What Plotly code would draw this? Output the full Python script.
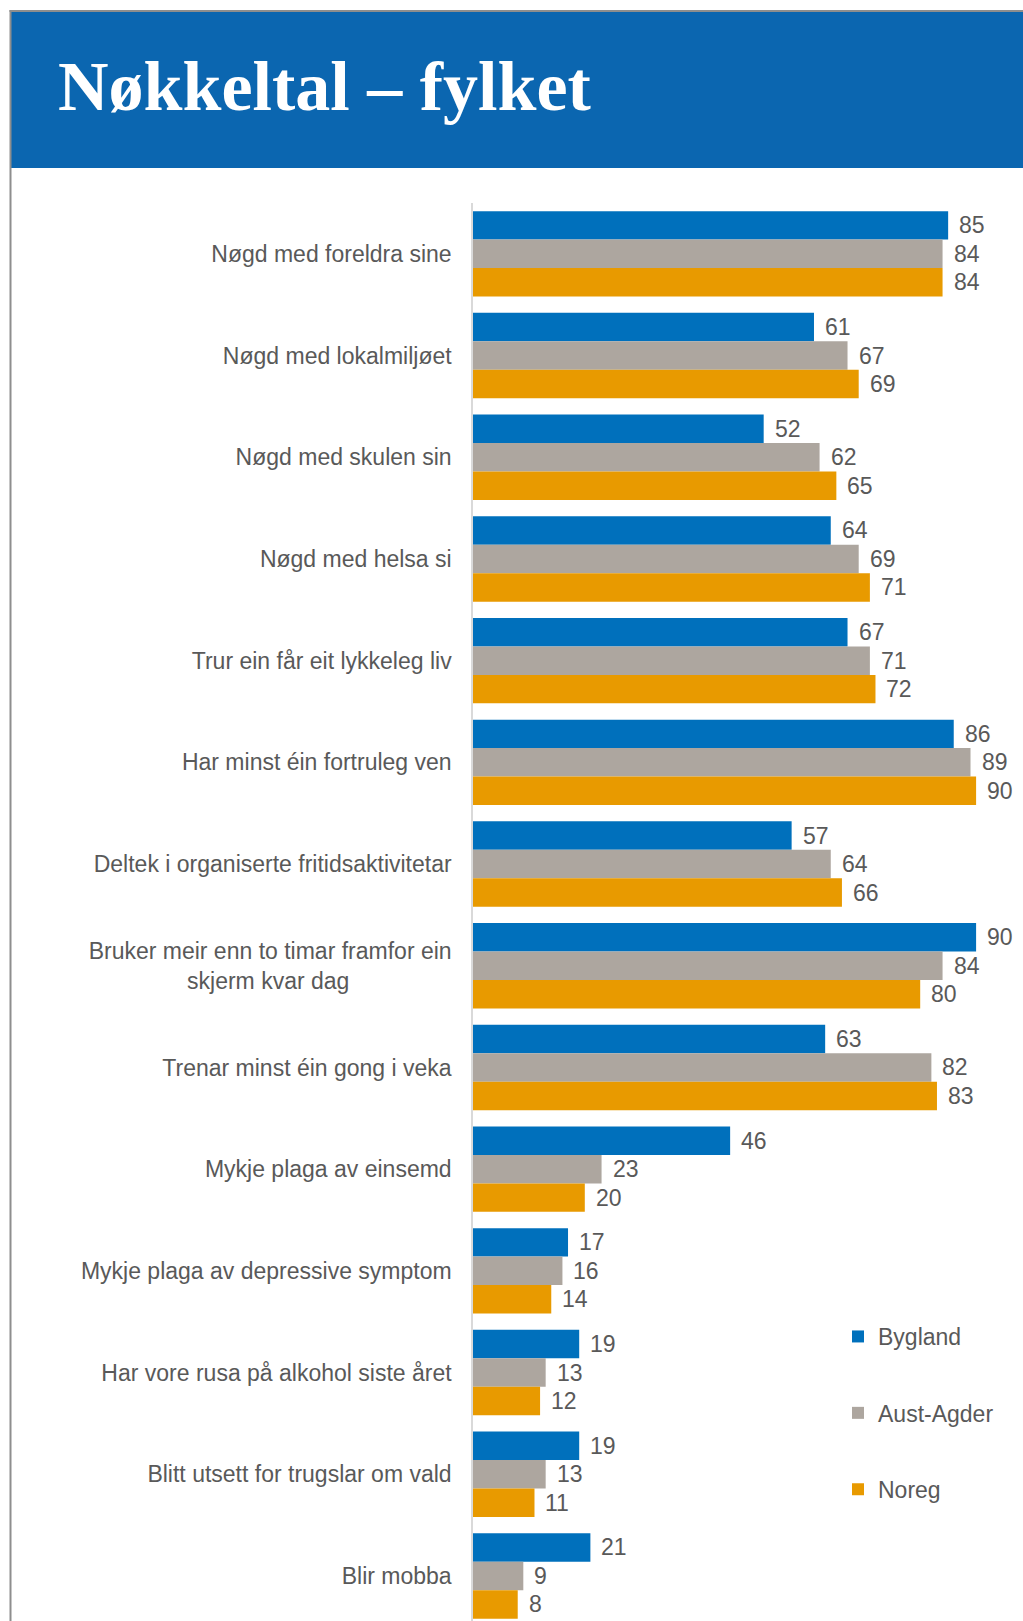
import plotly.graph_objects as go

# Indicators (top to bottom) and percentages per area
categories = [
    "Nøgd med foreldra sine",
    "Nøgd med lokalmiljøet",
    "Nøgd med skulen sin",
    "Nøgd med helsa si",
    "Trur ein får eit lykkeleg liv",
    "Har minst éin fortruleg ven",
    "Deltek i organiserte fritidsaktivitetar",
    "Bruker meir enn to timar framfor ein<br>skjerm kvar dag" + "\u00a0" * 16,
    "Trenar minst éin gong i veka",
    "Mykje plaga av einsemd",
    "Mykje plaga av depressive symptom",
    "Har vore rusa på alkohol siste året",
    "Blitt utsett for trugslar om vald",
    "Blir mobba",
]
bygland = [85, 61, 52, 64, 67, 86, 57, 90, 63, 46, 17, 19, 19, 21]
aust_agder = [84, 67, 62, 69, 71, 89, 64, 84, 82, 23, 16, 13, 13, 9]
noreg = [84, 69, 65, 71, 72, 90, 66, 80, 83, 20, 14, 12, 11, 8]

series = [
    ("Bygland", bygland, "#0070BC"),
    ("Aust-Agder", aust_agder, "#ADA69F"),
    ("Noreg", noreg, "#E89A00"),
]

W, H = 1023, 1621
L, T = 473, 203
PW, PH = W - L, H - T
SLOT = 101.7  # pixel height of one category slot
XMAX = PW / 5.59  # 5.59 px per percentage point

def px_x(p):
    return (p - L) / PW

def px_y(p):
    return (H - p) / PH

TEXT = "#595959"
FONT = "Liberation Sans, Arial, sans-serif"

fig = go.Figure()
for i, (name, vals, color) in enumerate(series):
    fig.add_trace(go.Bar(
        name=name,
        y=categories,
        x=vals,
        orientation="h",
        marker=dict(color=color, line=dict(width=0)),
        legendgroup=name,
        hoverinfo="x+y+name",
    ))

# Value labels at the end of each bar
n = len(series)
bw = (1 - 0.16) / n
annotations = []
for i, (name, vals, color) in enumerate(series):
    off = -0.5 + 0.08 + bw * (i + 0.5)
    for j, v in enumerate(vals):
        annotations.append(dict(
            x=v, y=j + off, xref="x", yref="y",
            text=str(v), showarrow=False,
            xanchor="left", yanchor="middle", xshift=9,
            font=dict(family=FONT, size=23, color=TEXT),
        ))

# Title in header band
annotations.append(dict(
    x=px_x(56), y=px_y(86), xref="paper", yref="paper",
    text="<b>Nøkkeltal – fylket</b>", showarrow=False,
    xanchor="left", yanchor="middle",
    font=dict(family="Liberation Serif, Times New Roman, serif", size=70, color="white"),
))

shapes = [
    # header band
    dict(type="rect", xref="paper", yref="paper",
         x0=px_x(11), x1=px_x(W + 2), y0=px_y(168), y1=px_y(12),
         fillcolor="#0B66B0", line=dict(width=0), layer="above"),
    # frame lines
    dict(type="line", xref="paper", yref="paper",
         x0=px_x(9.5), x1=px_x(W + 2), y0=px_y(11), y1=px_y(11),
         line=dict(color="#8E8E8E", width=2)),
    dict(type="line", xref="paper", yref="paper",
         x0=px_x(10.5), x1=px_x(10.5), y0=px_y(10), y1=px_y(H + 2),
         line=dict(color="#8E8E8E", width=2)),
]

fig.update_layout(
    width=W, height=H,
    margin=dict(l=L, r=0, t=T, b=0, pad=0),
    paper_bgcolor="white", plot_bgcolor="white",
    barmode="group", bargap=0.16, bargroupgap=0,
    showlegend=True,
    legend=dict(
        x=px_x(838), y=px_y(1315), xanchor="left", yanchor="top",
        font=dict(family=FONT, size=23, color=TEXT),
        tracegroupgap=43.5, bgcolor="rgba(0,0,0,0)",
        traceorder="grouped",
    ),
    xaxis=dict(range=[0, XMAX], visible=False, fixedrange=True),
    yaxis=dict(
        type="category",
        range=[-0.5 + PH / SLOT, -0.5],
        showline=True, linecolor="#D9D9D9", linewidth=1.5,
        showgrid=False, zeroline=False, ticks="",
        ticklabelstandoff=15,
        tickfont=dict(family=FONT, size=23, color=TEXT),
    ),
    annotations=annotations,
    shapes=shapes,
)

fig.write_html("out.html")
